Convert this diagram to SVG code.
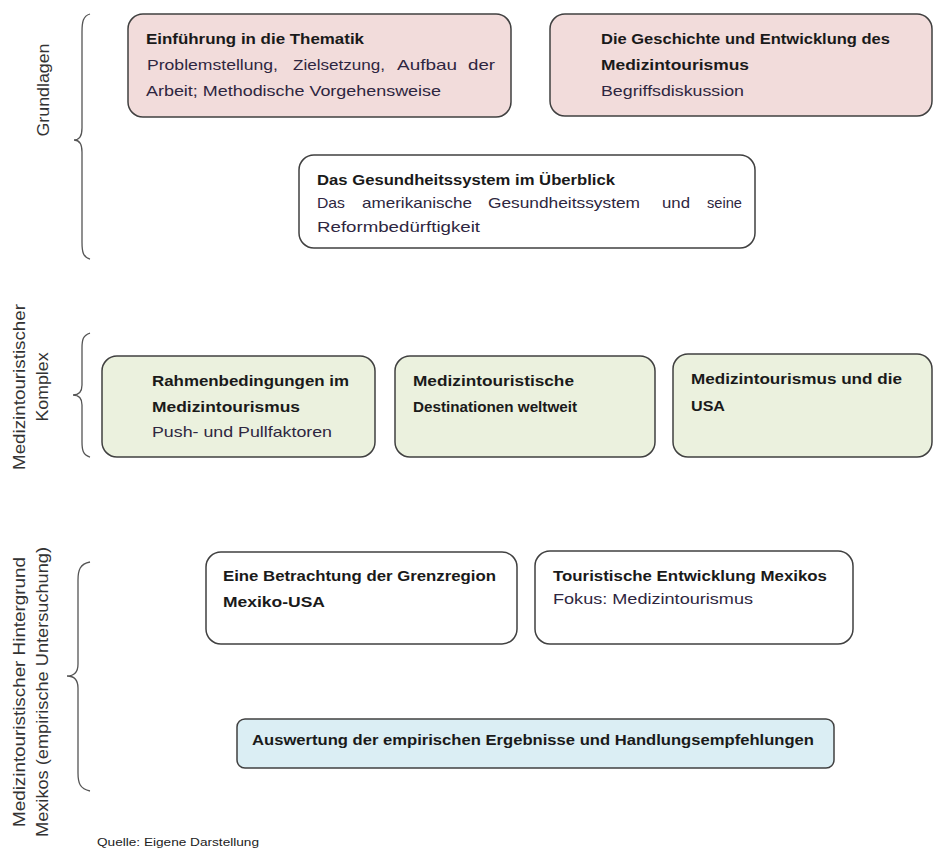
<svg xmlns="http://www.w3.org/2000/svg" width="933" height="849" viewBox="0 0 933 849">
<style>
.box{stroke:#404040;stroke-width:1.5}
.red{fill:#f2dcdb}
.green{fill:#ebf1de}
.white{fill:#ffffff}
.blue{fill:#dbeef4}
text{font-family:"Liberation Sans",Arial,sans-serif;font-size:15px}
.b{font-weight:bold;fill:#1a1a1a}
.r{fill:#2e2640}
.side{font-size:16px;fill:#333333}
.brace{fill:none;stroke:#555555;stroke-width:1.3}
.src{font-size:11px;fill:#222222}
</style>
<rect width="933" height="849" fill="#ffffff"/>
<g id="braces">
<path class="brace" d="M90 14 C83 16 82 22 82 32 L82 128 C82 136 79 140 74 140 C79 140 82 144 82 152 L82 242 C82 252 83 257 90 259"/>
<path class="brace" d="M90 333 C83 335 82 340 82 348 L82 385 C82 391 79 395 73 395 C79 395 82 399 82 405 L82 442 C82 450 83 455 90 457"/>
<path class="brace" d="M90 562 C80 564 78 570 78 580 L78 664 C78 672 74 676 67 676 C74 676 78 680 78 688 L78 773 C78 783 80 789 90 791"/>
</g>
<g id="labels">
<text class="side" transform="translate(49,90) rotate(-90)" text-anchor="middle" textLength="93" lengthAdjust="spacingAndGlyphs">Grundlagen</text>
<text class="side" transform="translate(25,387) rotate(-90)" text-anchor="middle" textLength="166" lengthAdjust="spacingAndGlyphs">Medizintouristischer</text>
<text class="side" transform="translate(48,387) rotate(-90)" text-anchor="middle" textLength="69" lengthAdjust="spacingAndGlyphs">Komplex</text>
<text class="side" transform="translate(25,692) rotate(-90)" text-anchor="middle" textLength="270" lengthAdjust="spacingAndGlyphs">Medizintouristischer Hintergrund</text>
<text class="side" transform="translate(48,692) rotate(-90)" text-anchor="middle" textLength="290" lengthAdjust="spacingAndGlyphs">Mexikos (empirische Untersuchung)</text>
</g>
<g id="n1">
<rect class="box red" x="128" y="14" width="383" height="103" rx="15"/>
<text class="b" x="146" y="44" textLength="218" lengthAdjust="spacingAndGlyphs">Einführung in die Thematik</text>
<text class="r" x="147" y="70" textLength="131" lengthAdjust="spacingAndGlyphs">Problemstellung,</text>
<text class="r" x="293" y="70" textLength="92" lengthAdjust="spacingAndGlyphs">Zielsetzung,</text>
<text class="r" x="397" y="70" textLength="60" lengthAdjust="spacingAndGlyphs">Aufbau</text>
<text class="r" x="468" y="70" textLength="27" lengthAdjust="spacingAndGlyphs">der</text>
<text class="r" x="146" y="96" textLength="295" lengthAdjust="spacingAndGlyphs">Arbeit; Methodische Vorgehensweise</text>
</g>
<g id="n2">
<rect class="box red" x="550" y="14" width="382" height="102" rx="15"/>
<text class="b" x="601" y="44" textLength="289" lengthAdjust="spacingAndGlyphs">Die Geschichte und Entwicklung des</text>
<text class="b" x="601" y="70" textLength="148" lengthAdjust="spacingAndGlyphs">Medizintourismus</text>
<text class="r" x="601" y="96" textLength="143" lengthAdjust="spacingAndGlyphs">Begriffsdiskussion</text>
</g>
<g id="n3">
<rect class="box white" x="299" y="155" width="456" height="93" rx="15"/>
<text class="b" x="317" y="185" textLength="298" lengthAdjust="spacingAndGlyphs">Das Gesundheitssystem im Überblick</text>
<text class="r" x="317" y="208" textLength="28" lengthAdjust="spacingAndGlyphs">Das</text>
<text class="r" x="362" y="208" textLength="110" lengthAdjust="spacingAndGlyphs">amerikanische</text>
<text class="r" x="488" y="208" textLength="152" lengthAdjust="spacingAndGlyphs">Gesundheitssystem</text>
<text class="r" x="662" y="208" textLength="28" lengthAdjust="spacingAndGlyphs">und</text>
<text class="r" x="707" y="208" textLength="35" lengthAdjust="spacingAndGlyphs">seine</text>
<text class="r" x="317" y="232" textLength="163" lengthAdjust="spacingAndGlyphs">Reformbedürftigkeit</text>
</g>
<g id="n4">
<rect class="box green" x="102" y="356" width="273" height="101" rx="15"/>
<text class="b" x="152" y="386" textLength="197" lengthAdjust="spacingAndGlyphs">Rahmenbedingungen im</text>
<text class="b" x="152" y="412" textLength="148" lengthAdjust="spacingAndGlyphs">Medizintourismus</text>
<text class="r" x="152" y="437" textLength="180" lengthAdjust="spacingAndGlyphs">Push- und Pullfaktoren</text>
</g>
<g id="n5">
<rect class="box green" x="395" y="356" width="260" height="101" rx="15"/>
<text class="b" x="413" y="386" textLength="161" lengthAdjust="spacingAndGlyphs">Medizintouristische</text>
<text class="b" x="413" y="412" textLength="164" lengthAdjust="spacingAndGlyphs">Destinationen weltweit</text>
</g>
<g id="n6">
<rect class="box green" x="673" y="354" width="259" height="103" rx="15"/>
<text class="b" x="691" y="384" textLength="211" lengthAdjust="spacingAndGlyphs">Medizintourismus und die</text>
<text class="b" x="691" y="411" textLength="34" lengthAdjust="spacingAndGlyphs">USA</text>
</g>
<g id="n7">
<rect class="box white" x="206" y="552" width="311" height="92" rx="15"/>
<text class="b" x="223" y="581" textLength="273" lengthAdjust="spacingAndGlyphs">Eine Betrachtung der Grenzregion</text>
<text class="b" x="223" y="607" textLength="102" lengthAdjust="spacingAndGlyphs">Mexiko-USA</text>
</g>
<g id="n8">
<rect class="box white" x="535" y="551" width="318" height="93" rx="15"/>
<text class="b" x="553" y="581" textLength="274" lengthAdjust="spacingAndGlyphs">Touristische Entwicklung Mexikos</text>
<text class="r" x="553" y="604" textLength="200" lengthAdjust="spacingAndGlyphs">Fokus: Medizintourismus</text>
</g>
<g id="n9">
<rect class="box blue" x="237" y="719" width="597" height="49" rx="8"/>
<text class="b" x="252" y="745" textLength="562" lengthAdjust="spacingAndGlyphs">Auswertung der empirischen Ergebnisse und Handlungsempfehlungen</text>
</g>
<g id="source">
<text class="src" x="97" y="846" textLength="162" lengthAdjust="spacingAndGlyphs">Quelle: Eigene Darstellung</text>
</g>
</svg>
